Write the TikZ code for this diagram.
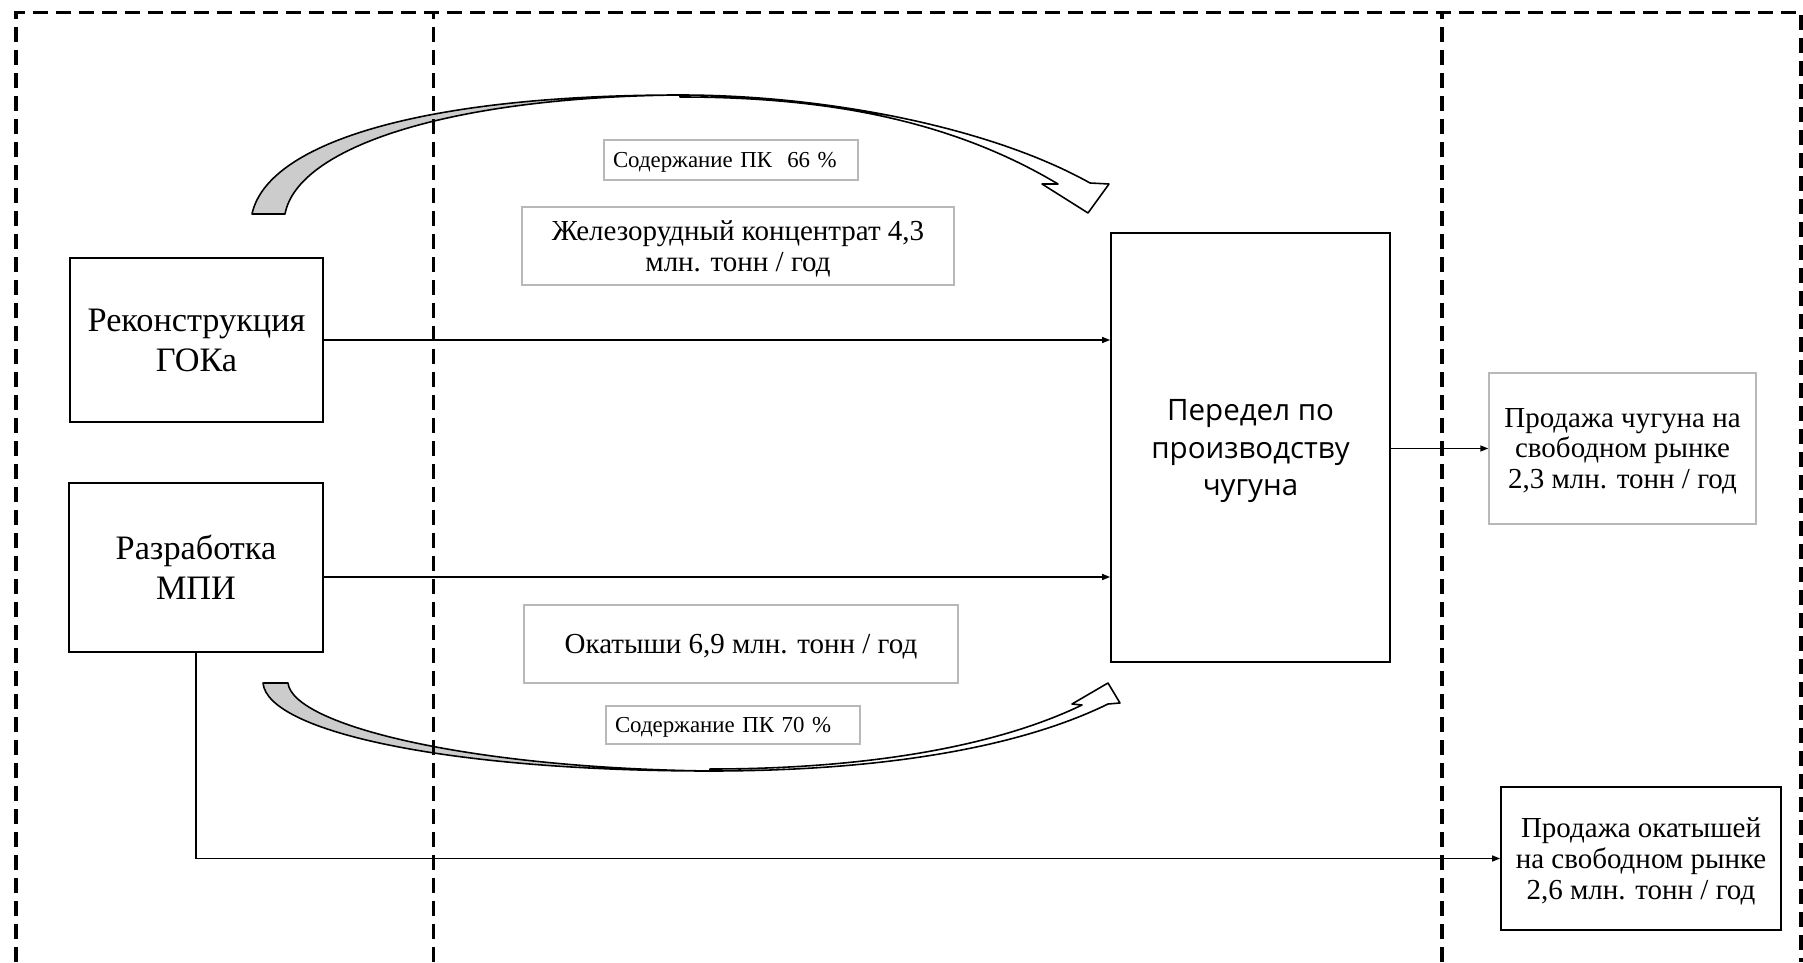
\documentclass[tikz,border=0pt]{standalone}
\usepackage{fontspec}
\setmainfont{Liberation Serif}
\newfontfamily\peredelfont{Open Sans}
\usetikzlibrary{arrows.meta}

\begin{document}
\begin{tikzpicture}[x=1cm,y=1cm]
\tikzset{
  blockbox/.style={draw,line width=1pt,align=center,inner sep=0pt,text depth=0pt},
  notebox/.style={draw=black!28,line width=0.8pt,align=center,inner sep=0pt,text depth=0pt},
  pkbox/.style={notebox,minimum width=5.08cm,text width=4.72cm,align=left,font=\fontsize{13}{15}\selectfont},
  flow/.style={-{Triangle[length=1.6mm,width=1.2mm]},line width=0.8pt},
  zoneline/.style={line width=2pt,dash pattern=on 0.30cm off 0.16cm},
  bandback/.style={draw,fill=black!20,line width=0.9pt,line join=round},
  bandfront/.style={draw,fill=white,line width=0.9pt,line join=round}
}
\useasboundingbox (0,0) rectangle (36.06,19.24);
% bent arrows (drawn first, zone lines go over them)
\draw[bandback] (5.04,14.96) .. controls (5.35,16.40) and (8.50,17.34) .. (13.60,17.34)
  .. controls (9.00,17.30) and (5.95,16.30) .. (5.70,14.96) -- cycle;
\draw[bandfront] (13.60,17.34) .. controls (16.50,17.34) and (19.80,16.70) .. (21.80,15.58)
  -- (22.18,15.56) -- (21.76,14.98) -- (20.84,15.56) -- (21.16,15.56)
  .. controls (19.00,16.85) and (16.50,17.30) .. (13.60,17.30) -- cycle;
\draw[bandback] (5.26,5.58) .. controls (5.35,4.60) and (9.00,3.82) .. (14.20,3.82)
  .. controls (9.30,3.88) and (5.85,4.75) .. (5.76,5.58) -- cycle;
\draw[bandfront] (14.20,3.82) .. controls (17.50,3.82) and (20.30,4.25) .. (22.16,5.16)
  -- (22.40,5.18) -- (22.16,5.58) -- (21.44,5.16) -- (21.64,5.14)
  .. controls (19.90,4.30) and (17.30,3.86) .. (14.20,3.86) -- cycle;
% zones
\draw[zoneline] (0.32,0) -- (0.32,18.99) -- (36.02,18.99) -- (36.02,0);
\draw[zoneline] (8.67,0) -- (8.67,18.99);
\draw[zoneline] (28.84,0) -- (28.84,18.99);
% boxes
\node[blockbox,minimum width=5.06cm,minimum height=3.28cm,font=\fontsize{19.5}{23}\selectfont] (n_gok) at (3.93,12.44) {Реконструкция\\ГОКа};
\node[blockbox,minimum width=5.08cm,minimum height=3.38cm,font=\fontsize{19.5}{23}\selectfont] (n_mpi) at (3.92,7.89) {Разработка\\МПИ};
\node[blockbox,minimum width=5.58cm,minimum height=8.58cm,font=\peredelfont\fontsize{16.8}{21.6}\selectfont] (n_peredel) at (25.01,10.29) {Передел по\\производству\\чугуна};
\node[pkbox,minimum height=0.80cm] (n_pk66) at (14.62,16.04) {Содержание ПК\ \ 66~\%};
\node[notebox,minimum width=8.64cm,minimum height=1.56cm,font=\fontsize{16.5}{18}\selectfont] (n_konc) at (14.76,14.32) {Железорудный концентрат 4,3\\млн. тонн / год};
\node[notebox,minimum width=8.68cm,minimum height=1.56cm,font=\fontsize{16.5}{18}\selectfont] (n_okat) at (14.82,6.36) {Окатыши 6,9 млн. тонн / год};
\node[pkbox,minimum height=0.76cm] (n_pk70) at (14.66,4.74) {Содержание ПК 70~\%};
\node[notebox,minimum width=5.34cm,minimum height=3.02cm,font=\fontsize{16.5}{17.5}\selectfont] (n_saleiron) at (32.45,10.27) {Продажа чугуна на\\свободном рынке\\2,3 млн. тонн / год};
\node[blockbox,minimum width=5.60cm,minimum height=2.86cm,font=\fontsize{16.5}{17.5}\selectfont] (n_salepel) at (32.82,2.07) {Продажа окатышей\\на свободном рынке\\2,6 млн. тонн / год};
% flows
\draw[flow] (n_gok.east) -- (n_gok.east -| n_peredel.west);
\draw[flow] ([yshift=-0.19cm]n_mpi.east) -- ([yshift=-0.19cm]n_mpi.east -| n_peredel.west);
\draw[flow] (n_peredel.east |- n_saleiron.west) -- (n_saleiron.west);
\draw[flow] (n_mpi.south) |- (n_salepel.west);
\end{tikzpicture}
\end{document}
